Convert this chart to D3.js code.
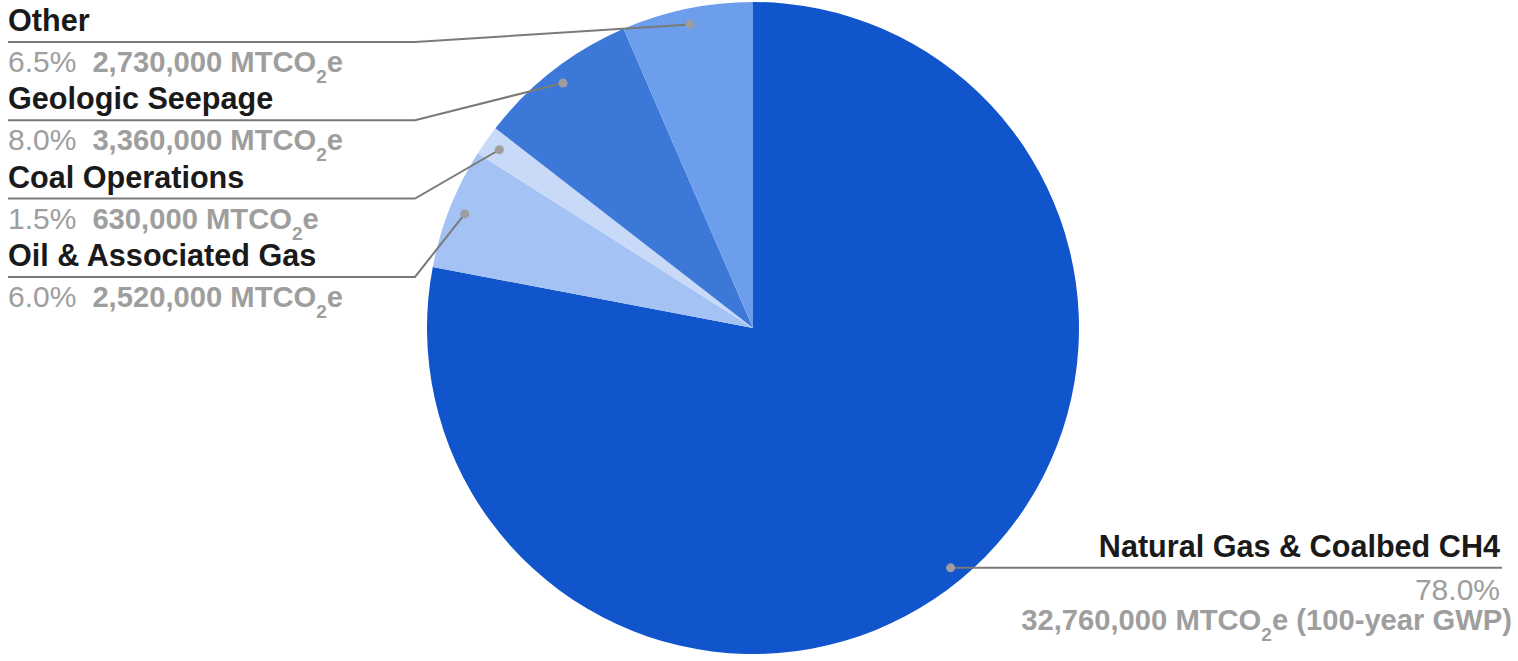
<!DOCTYPE html>
<html>
<head>
<meta charset="utf-8">
<script src="https://cdn.jsdelivr.net/npm/d3@7"></script>
<style>
  body { margin: 0; background: #fff; }
  text { font-family: "Liberation Sans", Arial, sans-serif; }
</style>
</head>
<body>
<div id="chart"></div>
<script>
// slice data, clockwise from 12 o'clock
const categories = ["Natural Gas & Coalbed CH4", "Oil & Associated Gas", "Coal Operations", "Geologic Seepage", "Other"];
const percents = [78.0, 6.0, 1.5, 8.0, 6.5];
const emissions = [32760000, 2520000, 630000, 3360000, 2730000];
const colors = ["#1155cc", "#a4c2f4", "#c9daf8", "#3c78d8", "#6d9eeb"];
const notes = [" (100-year GWP)", "", "", "", ""];

const width = 1518, height = 661;
const cx = 753, cy = 328, radius = 326;

let svg = d3.select("#chart")
    .append("svg")
    .attr("width", width)
    .attr("height", height);

let data = categories.map((c, i) => ({
    name: c, pct: percents[i], value: emissions[i], color: colors[i], note: notes[i]
}));

let pie = d3.pie()
    .sort(null)
    .value(d => d.pct);

let arc = d3.arc().innerRadius(0).outerRadius(radius);
// where the leader lines start
let dotArc = d3.arc().innerRadius(310).outerRadius(310);

let arcs = pie(data);

let g = svg.append("g")
    .attr("transform", `translate(${cx}, ${cy})`);

g.selectAll("path")
    .data(arcs)
    .enter()
    .append("path")
    .attr("d", arc)
    .attr("fill", d => d.data.color);

let fmt = d3.format(",");

// value line: "12.3%  1,234 MTCO2e"
function writeValue(text, d, showPct) {
    if (showPct) {
        text.append("tspan").attr("font-weight", "normal").attr("font-size", 30).text(d.pct.toFixed(1) + "%");
        text.append("tspan").attr("font-weight", "bold").attr("dx", 16).text(fmt(d.value) + " MTCO");
    } else {
        text.append("tspan").attr("font-weight", "bold").text(fmt(d.value) + " MTCO");
    }
    text.append("tspan").attr("font-weight", "bold").attr("font-size", 19).attr("dy", 11).text("2");
    text.append("tspan").attr("font-weight", "bold").attr("dy", -11).text("e" + d.note);
}

// left side labels (small slices), top to bottom
let left = arcs.slice(1).reverse();
let labels = svg.append("g");

left.forEach((a, i) => {
    let d = a.data;
    let [dx, dy] = dotArc.centroid(a);
    let px = cx + dx, py = cy + dy;
    let ly = 42 + i * 78.3;

    labels.append("polyline")
        .attr("points", `${px},${py} 415,${ly} 8,${ly}`)
        .attr("fill", "none")
        .attr("stroke", "#7a7a7a")
        .attr("stroke-width", 2);
    labels.append("circle")
        .attr("cx", px).attr("cy", py).attr("r", 4.5)
        .attr("fill", "#9e9e9e");

    labels.append("text")
        .attr("x", 8).attr("y", ly - 11)
        .attr("font-size", 30.6)
        .attr("font-weight", "bold")
        .attr("fill", "#1a1a1a")
        .text(d.name);

    let t = labels.append("text")
        .attr("x", 8).attr("y", ly + 30)
        .attr("font-size", 29.2)
        .attr("fill", "#9e9e9e");
    writeValue(t, d, true);
});

// big slice on the right
let big = arcs[0];
let [bx, by] = dotArc.centroid(big);
let bpx = cx + bx, bpy = cy + by + 1;

labels.append("line")
    .attr("x1", bpx).attr("y1", bpy)
    .attr("x2", 1502).attr("y2", bpy)
    .attr("stroke", "#7a7a7a")
    .attr("stroke-width", 2);
labels.append("circle")
    .attr("cx", bpx).attr("cy", bpy).attr("r", 4.5)
    .attr("fill", "#9e9e9e");

labels.append("text")
    .attr("x", 1500).attr("y", bpy - 11)
    .attr("text-anchor", "end")
    .attr("font-size", 30.6)
    .attr("font-weight", "bold")
    .attr("fill", "#1a1a1a")
    .text(big.data.name);

labels.append("text")
    .attr("x", 1500).attr("y", bpy + 32)
    .attr("text-anchor", "end")
    .attr("font-size", 30)
    .attr("fill", "#9e9e9e")
    .text(big.data.pct.toFixed(1) + "%");

let bt = labels.append("text")
    .attr("x", 1512).attr("y", bpy + 62)
    .attr("text-anchor", "end")
    .attr("font-size", 29.2)
    .attr("fill", "#9e9e9e");
writeValue(bt, big.data, false);
</script>
</body>
</html>
